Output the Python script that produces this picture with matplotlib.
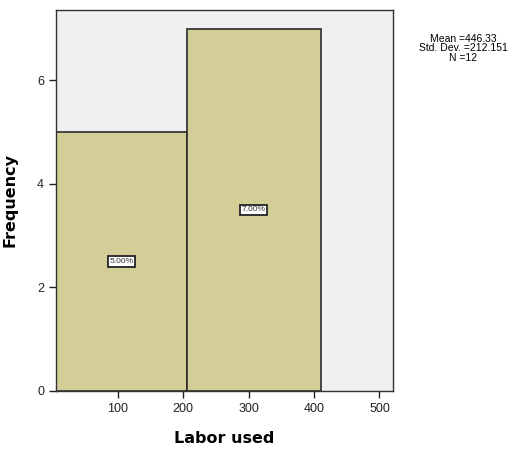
import numpy as np
import matplotlib
matplotlib.use('Agg')
import matplotlib.pyplot as plt

BAR = '#D3CE98'
BG = '#F0F0F0'

bin_edges = [5.5, 206, 410]
counts = [5, 7]
pct_labels = ['5.00%', '7.00%']
stats_text = 'Mean =446.33\nStd. Dev. =212.151\nN =12'

fig = plt.figure(figsize=(5.12, 4.53), dpi=100)
ax = fig.add_axes([0.109, 0.137, 0.659, 0.842])
ax.set_facecolor(BG)

lefts = np.array(bin_edges[:-1])
widths = np.diff(bin_edges)
ax.bar(lefts, counts, width=widths, align='edge', color=BAR,
       edgecolor='#2b2b2b', linewidth=1.2)

for l, w, c, lab in zip(lefts, widths, counts, pct_labels):
    ax.text(l + w / 2, c / 2, lab, ha='center', va='center', fontsize=6,
            color='#333333', family='Liberation Sans',
            bbox=dict(boxstyle='square,pad=0.2', fc='white', ec='#222222', lw=1.3))

ax.set_xlim(5.5, 521)
ax.set_ylim(0, 7.37)
ax.set_xticks([100, 200, 300, 400, 500])
ax.set_yticks([0, 2, 4, 6])
ax.tick_params(labelsize=9, length=5, width=1, colors='#222222')
for lab in ax.get_xticklabels() + ax.get_yticklabels():
    lab.set_family('Liberation Sans')
for s in ax.spines.values():
    s.set_color('#333333')
    s.set_linewidth(1)

ax.set_xlabel('Labor used', fontsize=11.5, fontweight='bold', labelpad=12,
              family='DejaVu Sans')
ax.set_ylabel('Frequency', fontsize=11.5, fontweight='bold', labelpad=14,
              family='DejaVu Sans')

fig.text(0.905, 0.893, stats_text, ha='center', va='center', fontsize=7.5,
         family='Liberation Sans', linespacing=0.95)

fig.savefig('out.png', dpi=100)
